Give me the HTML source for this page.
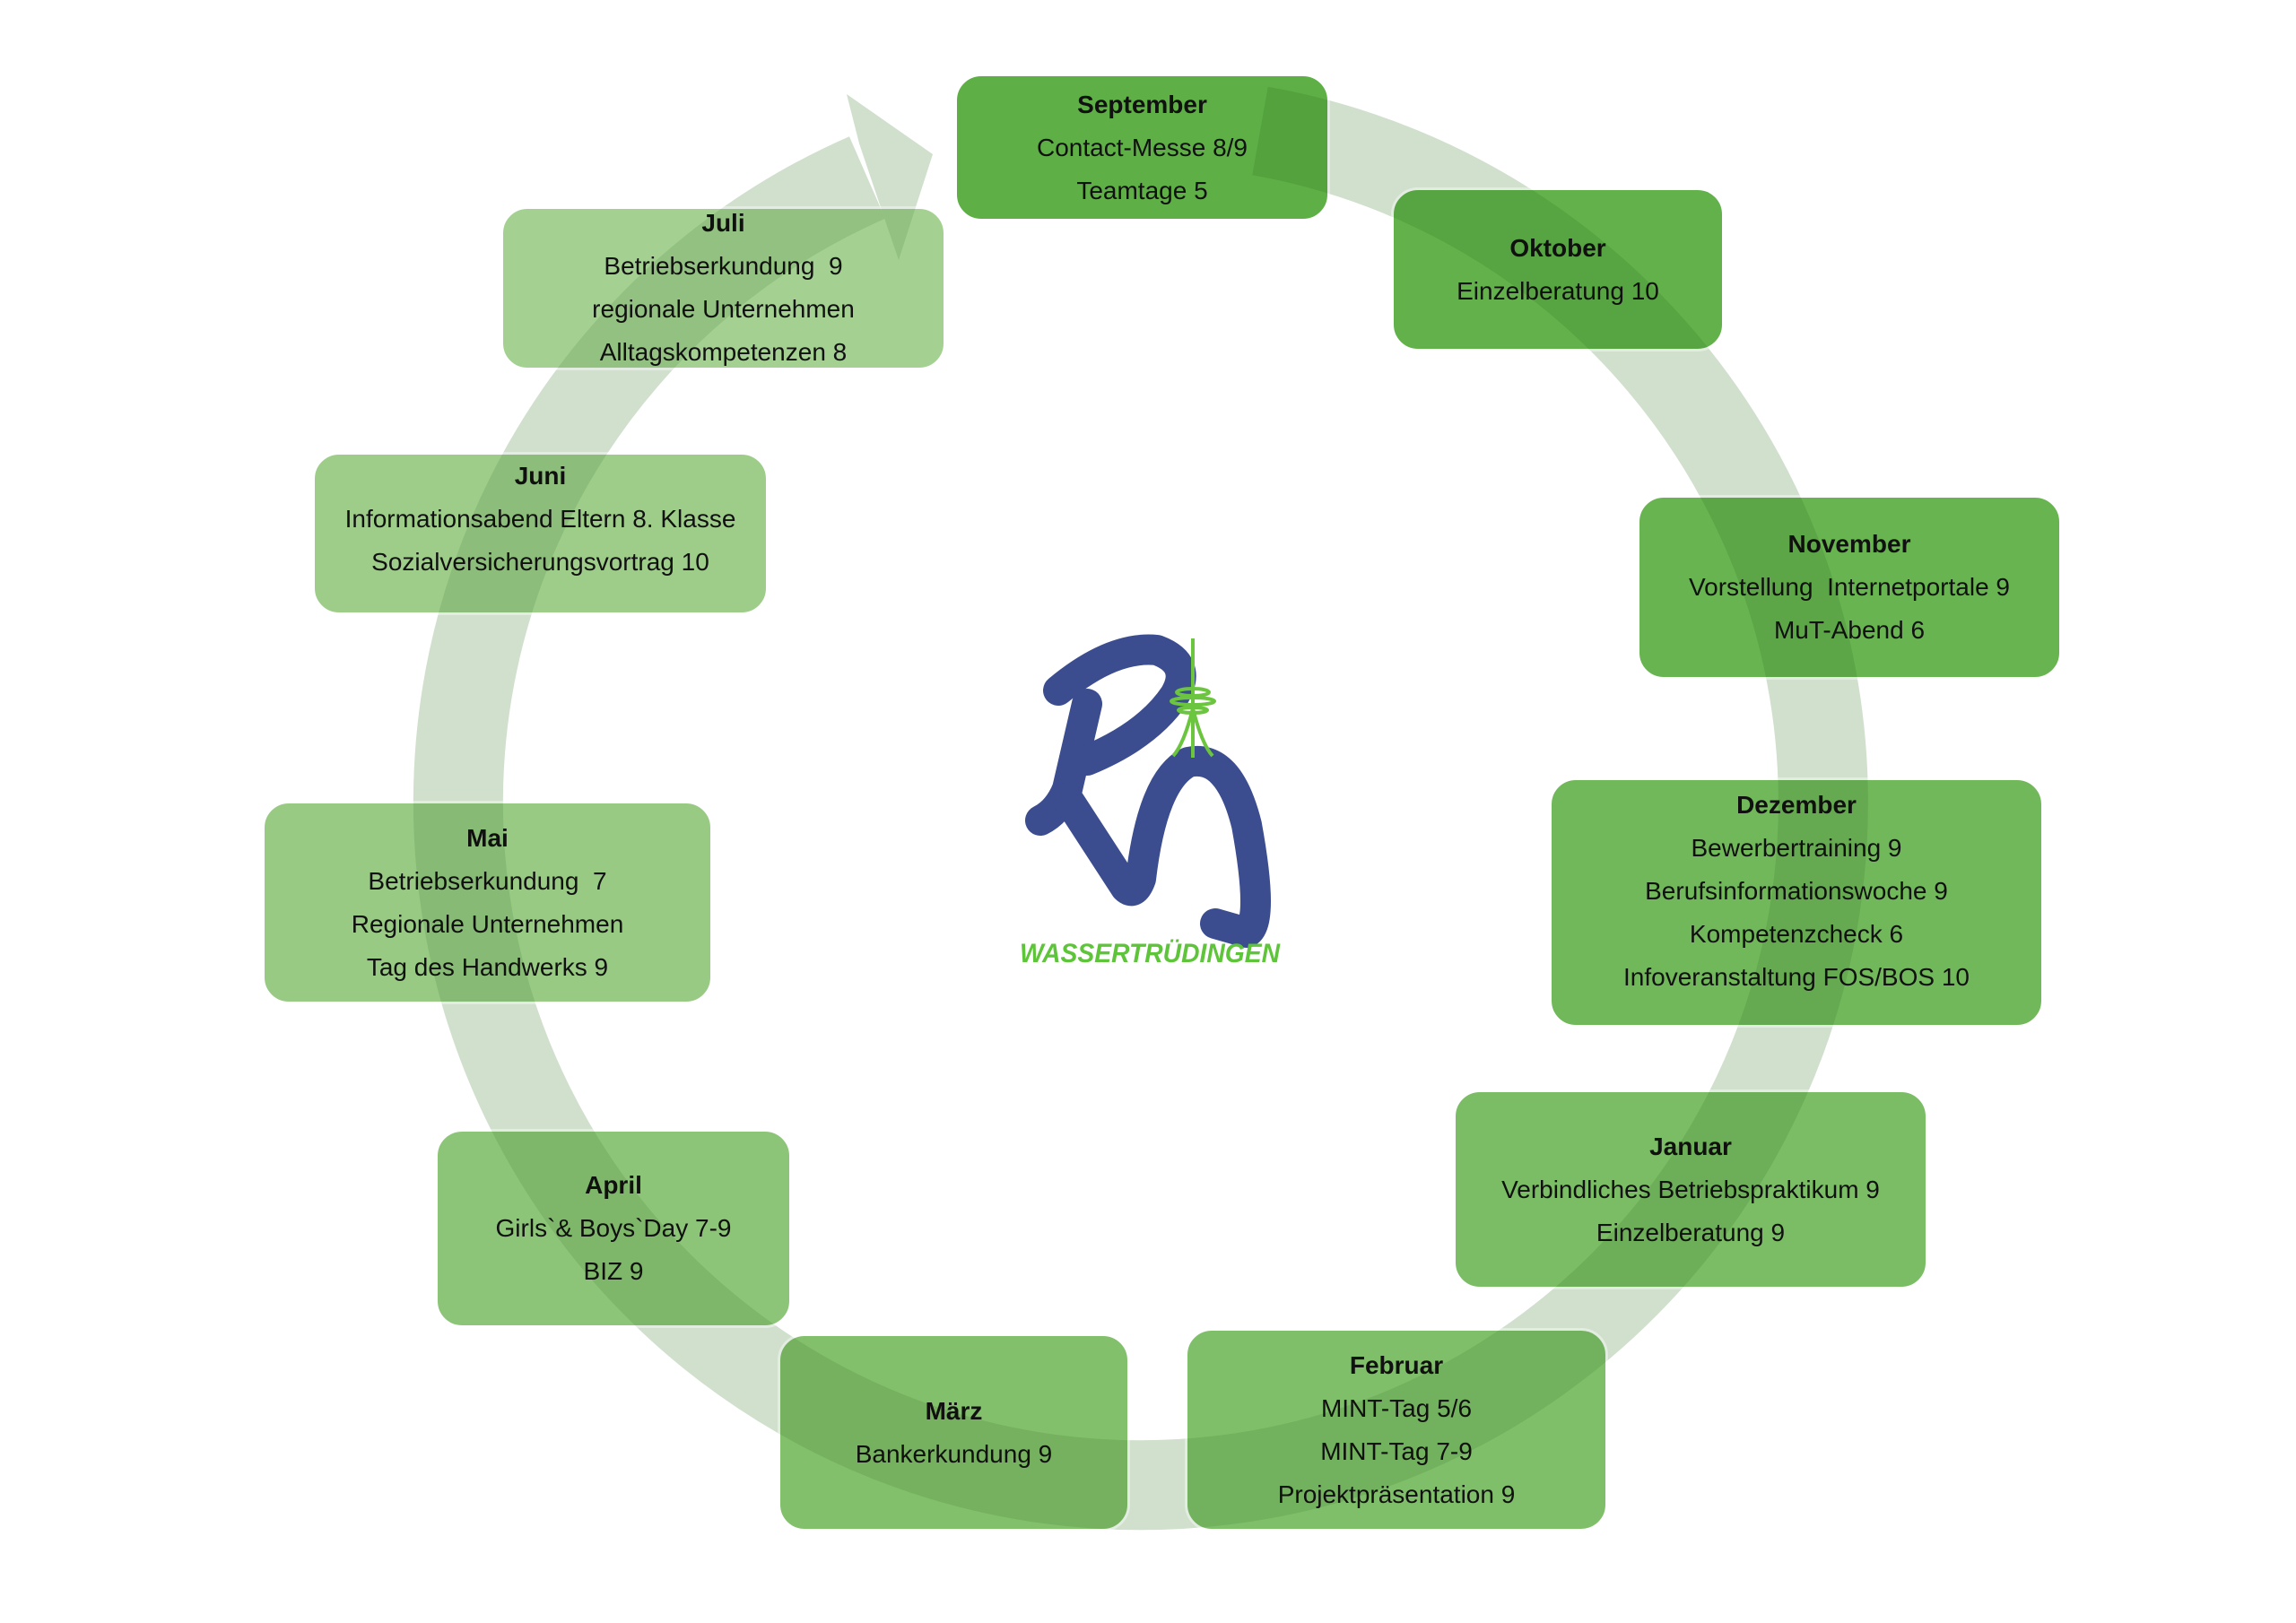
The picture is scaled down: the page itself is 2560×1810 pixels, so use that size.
<!DOCTYPE html>
<html><head><meta charset="utf-8">
<style>
html,body{margin:0;padding:0;background:#fff;}
#wrap{position:relative;width:2560px;height:1810px;overflow:hidden;background:#fff;font-family:"Liberation Sans",sans-serif;}
svg{position:absolute;left:0;top:0;}
.b{position:absolute;border-radius:30px;box-sizing:border-box;border:3px solid #fff;text-align:center;color:#111;font-size:28px;line-height:48px;display:flex;flex-direction:column;justify-content:center;}
.b b{font-weight:bold;}
</style></head><body><div id="wrap">
<svg width="2560" height="1810" viewBox="0 0 2560 1810">
  <path d="M1405,146 A761,761 0 1 1 967,198" fill="none" stroke="#eaf2e9" stroke-width="100"/>
  <polygon points="958,160 944,105 1040,172 1002,290 990,255" fill="#eaf2e9"/>
</svg>

<div class="b" style="left:1064px;top:82px;width:419px;height:165px;background:#5eaf45;"><div><b>September</b><br>Contact-Messe 8/9<br>Teamtage 5</div></div>
<div class="b" style="left:1551px;top:209px;width:372px;height:183px;background:#62b14a;"><div><b>Oktober</b><br>Einzelberatung 10</div></div>
<div class="b" style="left:1825px;top:552px;width:474px;height:206px;background:#67b450;"><div><b>November</b><br>Vorstellung&nbsp; Internetportale 9<br>MuT-Abend 6</div></div>
<div class="b" style="left:1727px;top:867px;width:552px;height:279px;background:#71b85a;padding-bottom:26px;"><div><b>Dezember</b><br>Bewerbertraining 9<br>Berufsinformationswoche 9<br>Kompetenzcheck 6<br>Infoveranstaltung FOS/BOS 10</div></div>
<div class="b" style="left:1620px;top:1215px;width:530px;height:223px;background:#7abd64;"><div><b>Januar</b><br>Verbindliches Betriebspraktikum 9<br>Einzelberatung 9</div></div>
<div class="b" style="left:1321px;top:1481px;width:472px;height:227px;background:#80bf69;"><div><b>Februar</b><br>MINT-Tag 5/6<br>MINT-Tag 7-9<br>Projektpräsentation 9</div></div>
<div class="b" style="left:867px;top:1487px;width:393px;height:221px;background:#83c06b;"><div><b>März</b><br>Bankerkundung 9</div></div>
<div class="b" style="left:485px;top:1259px;width:398px;height:222px;background:#8dc578;"><div><b>April</b><br>Girls`&amp; Boys`Day 7-9<br>BIZ 9</div></div>
<div class="b" style="left:292px;top:893px;width:503px;height:227px;background:#98ca84;"><div><b>Mai</b><br>Betriebserkundung&nbsp; 7<br>Regionale Unternehmen<br>Tag des Handwerks 9</div></div>
<div class="b" style="left:348px;top:504px;width:509px;height:182px;background:#9ecd8a;padding-bottom:32px;"><div><b>Juni</b><br>Informationsabend Eltern 8. Klasse<br>Sozialversicherungsvortrag 10</div></div>
<div class="b" style="left:558px;top:230px;width:497px;height:183px;background:#a4d192;justify-content:flex-start;padding-top:0px;"><div style="margin-top:-8px"><b>Juli</b><br>Betriebserkundung&nbsp; 9<br>regionale Unternehmen<br>Alltagskompetenzen 8</div></div>

<svg width="2560" height="1810" viewBox="0 0 2560 1810" style="mix-blend-mode:multiply;pointer-events:none">
  <path d="M1405,146 A761,761 0 1 1 967,198" fill="none" stroke="#e3ece1" stroke-width="100"/>
  <polygon points="958,160 944,105 1040,172 1002,290 990,255" fill="#e3ece1"/>
</svg>

<svg width="2560" height="1810" viewBox="0 0 2560 1810">
  <g fill="none" stroke="#3b4c8f" stroke-width="34" stroke-linecap="round" stroke-linejoin="round">
    <path d="M1212,785 L1190,880 Q1180,905 1160,915"/>
    <path d="M1180,770 Q1240,720 1290,725 Q1330,740 1310,775 Q1280,820 1212,848"/>
    <path d="M1190,890 L1255,990 Q1265,1000 1272,980 Q1285,870 1325,850 Q1370,840 1390,920 Q1410,1030 1390,1040 L1355,1030"/>
  </g>
  <g stroke="#6cc53e" stroke-width="4" fill="none">
    <path d="M1330,712 L1330,845"/>
    <path d="M1330,790 Q1320,830 1308,843 M1330,790 Q1340,830 1352,843"/>
    <ellipse cx="1330" cy="772" rx="18" ry="4"/>
    <ellipse cx="1330" cy="782" rx="24" ry="4"/>
    <ellipse cx="1330" cy="792" rx="16" ry="3"/>
  </g>
  <text x="1137" y="1073" font-family="Liberation Sans, sans-serif" font-size="30" font-style="italic" font-weight="bold" fill="#5ec43a" textLength="290" lengthAdjust="spacingAndGlyphs">WASSERTRÜDINGEN</text>
</svg>
</div></body></html>
